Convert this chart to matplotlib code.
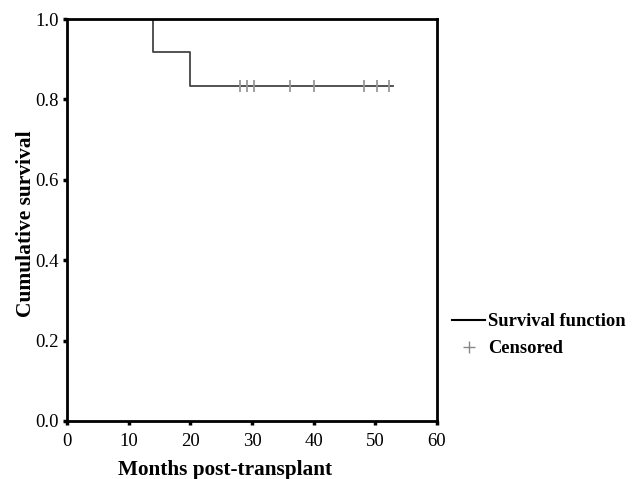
import matplotlib
matplotlib.use("Agg")
import matplotlib.pyplot as plt
from matplotlib.lines import Line2D

# Kaplan-Meier step data
step_times = [0, 14, 20, 52.8]
step_surv = [1.0, 0.917, 0.833, 0.833]
censor_times = [28, 29.2, 30.3, 36.2, 40.1, 48.2, 50.2, 52.2]
censor_surv = [0.833] * len(censor_times)

xticks = [0, 10, 20, 30, 40, 50, 60]
yticks = [0.0, 0.2, 0.4, 0.6, 0.8, 1.0]

plt.rcParams['font.family'] = ['Liberation Serif', 'DejaVu Serif']

fig = plt.figure(figsize=(6.41, 4.79), dpi=100)
ax = fig.add_axes([0.1045, 0.1211, 0.5772, 0.8392])

ax.step(step_times, step_surv, where='post', color='#444444', lw=1.3)
ax.plot(censor_times, censor_surv, ls='none', marker='|', ms=9, mew=1.3,
        color='#999999')

ax.set_xlim(0, 60)
ax.set_ylim(0, 1.0)
ax.set_xticks(xticks)
ax.set_yticks(yticks)
ax.set_xticklabels([str(t) for t in xticks], fontsize=13.5)
ax.set_yticklabels(['%.1f' % t for t in yticks], fontsize=13.5)
ax.tick_params(direction='out', length=3, width=2.5, pad=3)
ax.tick_params(axis='x', pad=6)
for s in ax.spines.values():
    s.set_linewidth(2)
    s.set_color('black')

ax.set_xlabel('Months post-transplant', fontsize=15.3, fontweight='bold')
ax.xaxis.set_label_coords(0.427, -0.097)
ax.set_ylabel('Cumulative survival', fontsize=15.5, fontweight='bold')
ax.yaxis.set_label_coords(-0.085, 0.49)

handles = [Line2D([], [], color='black', lw=1.5),
           Line2D([], [], ls='none', marker='+', ms=9, mew=1.0, color='#888888')]
leg = fig.legend(handles, ['Survival function', 'Censored'],
                 loc='center left', bbox_to_anchor=(0.691, 0.3),
                 frameon=False, handlelength=1.8, handletextpad=0.15,
                 labelspacing=0.55, borderpad=0, prop={'weight': 'bold', 'size': 13.3})

fig.savefig('out.png', dpi=100)
